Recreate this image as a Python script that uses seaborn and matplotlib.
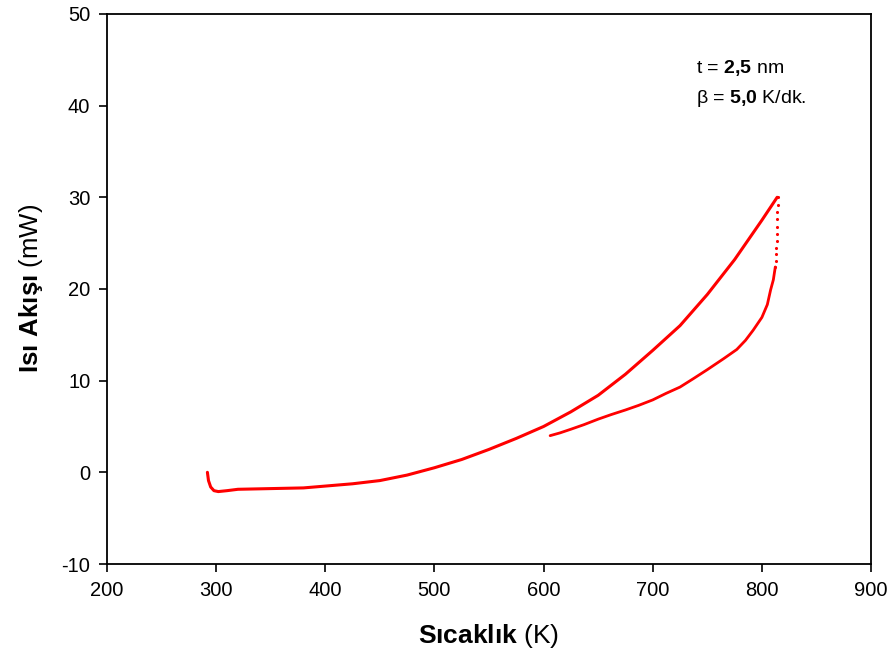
import numpy as np
import pandas as pd
import matplotlib
matplotlib.use("Agg")
import matplotlib.pyplot as plt
import seaborn as sns

# isitma egrisi (heating) - okunan degerler
heat_T = [292, 293, 295, 298, 302, 310, 320, 340, 360, 380, 400, 425, 450, 475, 500,
          525, 550, 575, 600, 625, 650, 675, 700, 725, 750, 775, 800, 814]
heat_Q = [0.0, -0.9, -1.6, -2.0, -2.1, -2.0, -1.85, -1.8, -1.75, -1.7, -1.5, -1.25, -0.9,
          -0.3, 0.5, 1.4, 2.5, 3.7, 5.0, 6.6, 8.4, 10.7, 13.3, 16.0, 19.4, 23.2, 27.5, 30.0]

# ani dusus (noktali kisim)
drop_T = [814.5, 814.5, 814.3, 814.1, 814.0, 813.8, 813.5, 813.3, 813.0, 812.7, 812.3]
drop_Q = [30.0, 29.2, 28.4, 27.6, 26.8, 26.0, 25.2, 24.5, 23.8, 23.1, 22.4]

# sogutma egrisi (cooling)
cool_T = [812.3, 810.5, 808, 805, 800, 792, 785, 777, 765, 750, 737, 725, 712, 700,
          687, 675, 662, 650, 637, 625, 615, 606]
cool_Q = [22.4, 21.0, 19.9, 18.3, 16.9, 15.5, 14.4, 13.4, 12.4, 11.2, 10.2, 9.3, 8.6, 7.9,
          7.3, 6.8, 6.3, 5.8, 5.2, 4.7, 4.3, 4.0]

sns.set_style("ticks")
plt.rcParams['font.family'] = ['Liberation Sans', 'DejaVu Sans']
plt.rcParams['mathtext.fontset'] = 'custom'
plt.rcParams['mathtext.rm'] = 'Liberation Sans'
plt.rcParams['mathtext.bf'] = 'Liberation Sans:bold'
plt.rcParams['axes.unicode_minus'] = False
for k in ['text.color', 'axes.labelcolor', 'xtick.color', 'ytick.color', 'axes.edgecolor']:
    plt.rcParams[k] = 'black'

fig = plt.figure(figsize=(8.93, 6.64), dpi=100)
ax = fig.add_axes([0.1198, 0.1506, 0.8556, 0.8284])

heat = pd.DataFrame({"T": heat_T, "Q": heat_Q})
cool = pd.DataFrame({"T": cool_T, "Q": cool_Q})
sns.lineplot(data=heat, x="T", y="Q", sort=False, color="#ff0000", lw=2.2, ax=ax)
sns.lineplot(data=cool, x="T", y="Q", sort=False, color="#ff0000", lw=2.0, ax=ax)
sns.scatterplot(x=drop_T, y=drop_Q, color="#ff0000", s=5, linewidth=0, ax=ax)

ax.set_xlim(200, 900)
ax.set_ylim(-10, 50)
ax.set_xticks(np.arange(200, 901, 100))
ax.set_yticks(np.arange(-10, 51, 10))
ax.tick_params(direction="out", length=6, width=1.2, labelsize=14.5, pad=6)
for s in ax.spines.values():
    s.set_linewidth(1.3)

ax.set_xlabel(r"$\mathbf{Sıcaklık}$ (K)", fontsize=19, labelpad=16)
ax.set_ylabel(r"$\mathbf{Isı\ Akışı}$ (mW)", fontsize=18.5, labelpad=12)

ax.text(740, 44.1, r"t = $\mathbf{2{,}5}$ nm", fontsize=14, va="center")
ax.text(740, 40.8, r"β = $\mathbf{5{,}0}$ K/dk.", fontsize=14, va="center")

plt.savefig("out.png", dpi=100)
